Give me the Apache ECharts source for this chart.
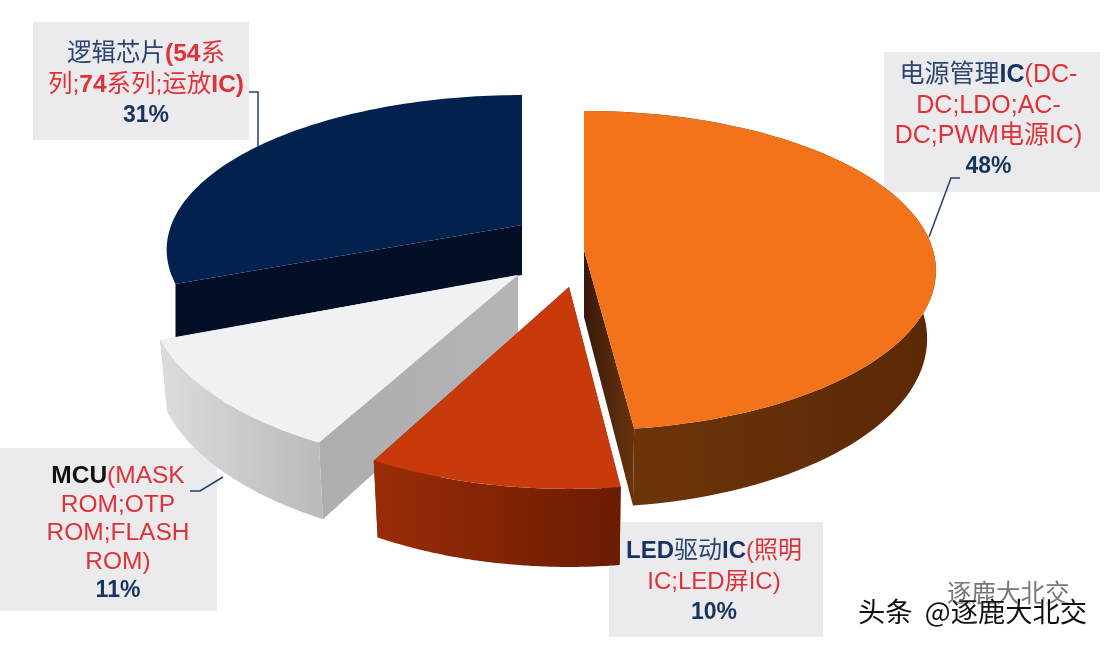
<!DOCTYPE html>
<html><head><meta charset="utf-8">
<style>html,body{margin:0;padding:0;background:#fefefe}#c{width:1108px;height:646px}</style>
<script src="https://cdn.jsdelivr.net/npm/echarts@6/dist/echarts.min.js"></script>
</head><body><div id="c"></div>
<script>
// ---- data ----
const categories = ['电源管理IC', 'LED驱动IC', 'MCU', '逻辑芯片'];
const shares = [48, 10, 11, 31];
const details = ['(DC-DC;LDO;AC-DC;PWM电源IC)', '(照明IC;LED屏IC)', '(MASK ROM;OTP ROM;FLASH ROM)', '(54系列;74系列;运放IC)'];

// ---- layout and style ----
const FONT = '"Liberation Sans","Noto Sans CJK SC",sans-serif';
const NAVY = '#17335f', RED = '#df3238';
const RX = 349, RY = 157;
const sliceLayout = [
  {cx:584, cy:250, sx:1.00, sy:1.00, k:0.129, d:67, z:3, shrink:0.975, top:'#f3731a',
   wall:['#6f360b','#5b2905'], cut:['#38190a','#6a340b']},
  {cx:569, cy:287, sx:1.03, sy:1.12, k:0.129, d:68, z:4, shrink:0.98, top:'#c8390c',
   wall:['#9a2c07','#6b1c02'], cut:['#6b1c02','#6b1c02']},
  {cx:518, cy:275, sx:1.05, sy:1.08, k:0.129, d:68, z:2, shrink:0.98, top:'#f1f1f3',
   wall:['#dbdcde','#b9babd'], cut:['#aeaeb1','#b4b4b7']},
  {cx:522, cy:225, sx:1.005, sy:0.96, k:0.16, d:50, z:1, shrink:1, noWall:true, top:'#03214f',
   wall:['#020f26','#020f26'], cut:['#020f26','#020f26']}
];

function project(L, a, drop) {
  const x = Math.sin(a), y = -Math.cos(a), f = 1 / (1 - L.k * y);
  const shrink = drop ? L.shrink : 1;
  return [L.cx + RX * L.sx * x * f * shrink,
          L.cy + RY * L.sy * y * f + (drop ? L.d * f : 0)];
}
function hGrad(c) {
  return {type:'linear', x:0, y:0, x2:1, y2:0, colorStops:[{offset:0,color:c[0]},{offset:1,color:c[1]}]};
}
const total = shares.reduce((a, b) => a + b, 0);
const startShares = shares.map((_, i) => shares.slice(0, i).reduce((a, b) => a + b, 0));

function renderSlice(params, api) {
  const i = params.dataIndex, L = sliceLayout[i];
  const a0 = api.value(1) / total * 2 * Math.PI;
  const a1 = a0 + api.value(0) / total * 2 * Math.PI;
  const top = [], bot = [], n = 90;
  for (let k = 0; k <= n; k++) {
    const a = a0 + (a1 - a0) * k / n;
    top.push(project(L, a, false));
    bot.push(project(L, a, true));
  }
  const apex = [L.cx, L.cy], apexLow = [L.cx, L.cy + L.d];
  const poly = (pts, fill, z) => ({type:'polygon', z2:L.z * 10 + z, shape:{points:pts}, style:{fill:fill}});
  const children = [
    poly([apex, top[n], bot[n], apexLow], hGrad(L.cut), 0),
    poly([apex, top[0], bot[0], apexLow], hGrad(L.cut), 0)
  ];
  if (!L.noWall) children.push(poly(top.concat(bot.slice().reverse()), hGrad(L.wall), 1));
  children.push(poly([apex].concat(top), L.top, 2));
  return {type:'group', children:children};
}

// ---- label text, built from the arrays ----
const boxes = [
  {x:884, y:52,  w:216, h:140, tx:988.5, ty:121, size:25, lh:30.3, lines:[
    [['c','电源管理'],['n','IC'],['r','(DC-']], [['r','DC;LDO;AC-']], [['r','DC;PWM电源IC)']]]},
  {x:609, y:522, w:214, h:115, tx:714, ty:582, size:24, lh:31, lines:[
    [['n','LED'],['c','驱动'],['n','IC'],['r','(照明']], [['r','IC;LED屏IC)']]]},
  {x:0,   y:448, w:217, h:163, tx:118, ty:533.5, size:24.5, lh:28.5, lines:[
    [['k','MCU'],['r','(MASK']], [['r','ROM;OTP']], [['r','ROM;FLASH']], [['r','ROM)']]]},
  {x:33,  y:22,  w:216, h:118, tx:146, ty:85, size:24.5, lh:30.5, lines:[
    [['c','逻辑芯片'],['rb','(54'],['r','系']], [['r','列;'],['rb','74'],['r','系列;运放'],['rb','IC)']]]}
];
const tok = (s, t) => '{' + s + '|' + t + '}';
const richFor = (size, lh) => ({
  n:{fontFamily:FONT, fontSize:size, fontWeight:'bold', fill:NAVY, lineHeight:lh},
  c:{fontFamily:FONT, fontSize:size, fill:'#2b4470', lineHeight:lh},
  k:{fontFamily:FONT, fontSize:size, fontWeight:'bold', fill:'#111', lineHeight:lh},
  r:{fontFamily:FONT, fontSize:size, fill:RED, lineHeight:lh},
  rb:{fontFamily:FONT, fontSize:size, fontWeight:'bold', fill:RED, lineHeight:lh},
  p:{fontFamily:FONT, fontSize:23, fontWeight:'bold', fill:NAVY, lineHeight:lh}
});
const leaders = [
  [[960,178],[951,178],[929,237]],
  [[190,491],[200,491],[223,477]],
  [[249,92],[258,92],[258,150]]
];
const graphics = [{type:'rect', z:0, shape:{x:0,y:0,width:1108,height:646}, style:{fill:'#fefefe'}}];
boxes.forEach((b, i) => {
  const txt = b.lines.map(l => l.map(p => tok(p[0], p[1])).join('')).concat([tok('p', shares[i] + '%')]).join('\n');
  graphics.push({type:'rect', z:1, shape:{x:b.x,y:b.y,width:b.w,height:b.h}, style:{fill:'#ebebed'}});
  graphics.push({type:'text', z:20, x:b.tx, y:b.ty,
    style:{text:txt, rich:richFor(b.size, b.lh), align:'center', verticalAlign:'middle', font:b.size + 'px ' + FONT}});
});
leaders.forEach(p => graphics.push({type:'polyline', z:1, shape:{points:p},
  style:{stroke:'#22406b', lineWidth:1.5, fill:null}}));
graphics.push({type:'text', z:21, x:947, y:593, style:{text:'逐鹿大北交', font:'24.5px "Noto Sans CJK SC"',
  fill:'#777', stroke:'#fff', lineWidth:1, align:'left', verticalAlign:'middle'}});
graphics.push({type:'text', z:22, x:858, y:612, style:{text:'头条  @逐鹿大北交', font:'27.3px "Noto Sans CJK SC"',
  fill:'#111', stroke:'#fff', lineWidth:0.7, align:'left', verticalAlign:'middle'}});

const chart = echarts.init(document.getElementById('c'), null, {renderer:'canvas'});
chart.setOption({
  animation:false,
  backgroundColor:'#fefefe',
  graphic:graphics,
  series:[{
    type:'custom', coordinateSystem:'none', z:5, silent:true,
    renderItem:renderSlice,
    encode:{itemName:2},
    data:shares.map((v, i) => ({name:categories[i], value:[v, startShares[i], details[i]]}))
  }]
});
</script></body></html>
